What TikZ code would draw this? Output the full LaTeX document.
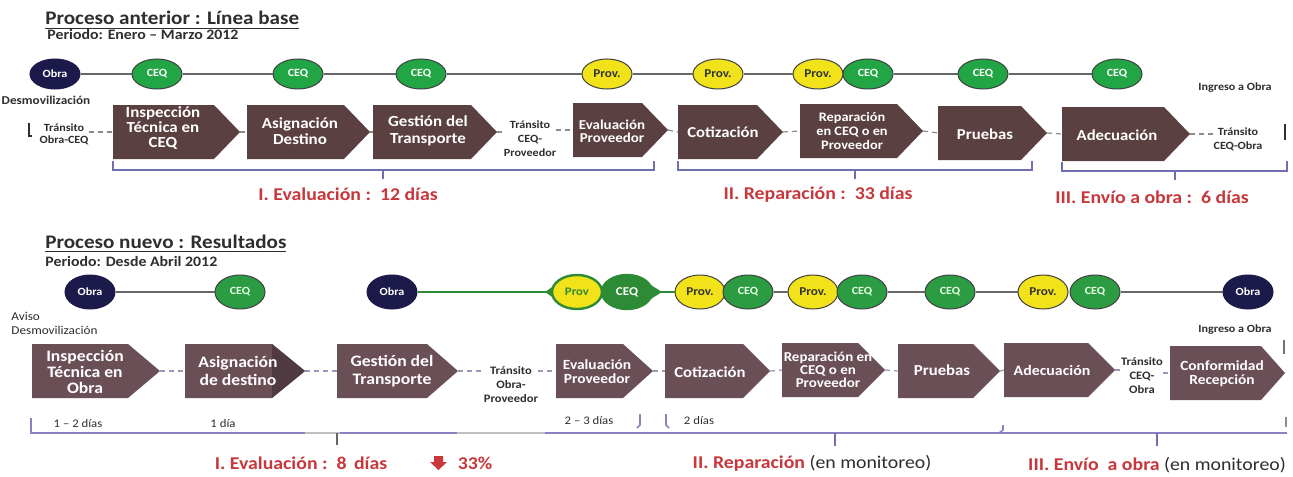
\documentclass[tikz,border=0pt]{standalone}
\usepackage{fontspec}
\setmainfont{Carlito}[FakeStretch=1.1]
\usetikzlibrary{shapes.geometric}
\definecolor{navy}{HTML}{1C1A4A}
\definecolor{gtop}{HTML}{22A544}
\definecolor{gbot}{HTML}{2C9C42}
\definecolor{gdark}{HTML}{2E8B35}
\definecolor{yel}{HTML}{F2E21A}
\definecolor{boxtop}{HTML}{5B4041}
\definecolor{boxbot}{HTML}{6B4F56}
\definecolor{boxdark}{HTML}{4E3A40}
\definecolor{redc}{HTML}{C8373B}
\definecolor{brc}{HTML}{6E6EB0}
\definecolor{purp}{HTML}{8F80C4}
\definecolor{txtc}{HTML}{2E2E2E}
\newcommand\procshape[7]{%
 \fill[#7] (#2,#4) -- ({#3-#6},#4) -- (#3,{(#4+#5)/2}) -- ({#3-#6},#5) -- (#2,#5) -- cycle;
 \coordinate (#1-w) at (#2,{(#4+#5)/2});
 \coordinate (#1-e) at (#3,{(#4+#5)/2});}
\begin{document}
\begin{tikzpicture}[x=0.5pt,y=-0.5pt,
 fs/.style 2 args={font=\bfseries\fontsize{#1}{#2}\selectfont},
 fr/.style 2 args={font=\fontsize{#1}{#2}\selectfont},
 circ/.style={ellipse,minimum width=25pt,minimum height=15pt,inner sep=0pt,draw=black!75,line width=0.5pt,fs={5.5}{6}},
 circb/.style={circ,minimum height=17pt},
 obra/.style={fill=navy,draw=navy,text=white},
 ceqt/.style={fill=gtop,text=white},
 ceqb/.style={fill=gbot,text=green!10},
 prov/.style={fill=yel,text=black!80,fs={6}{6}},
 tline/.style={draw=black!60,line width=0.7pt},
 gline/.style={draw=gdark,line width=0.9pt},
 btxt/.style={text=white,align=center,inner sep=0pt},
 small/.style={text=txtc,align=center,inner sep=0pt,fs={5.5}{6.5}},
 dsh/.style={draw=black!45,dashed,dash pattern=on 2.5pt off 2pt,line width=0.6pt},
 dshb/.style={draw=purp!80!black!70,dashed,dash pattern=on 2.5pt off 2pt,line width=0.6pt},
 brace/.style={draw=brc,line width=0.7pt},
 redlab/.style={text=redc,inner sep=0pt,fs={9}{9}},
 boxA/.style={fill=boxtop},
 boxB/.style={fill=boxbot},
 boxD/.style={fill=boxdark}]
\useasboundingbox[fill=white] (0,0) rectangle (1293,476);
% ---------------- TOP SECTION ----------------
\node[anchor=base west,inner sep=0pt,text=txtc,fs={9.6}{10}] (title1) at (45,25) {\underline{Proceso anterior : Línea base}};
\node[anchor=base west,inner sep=0pt,text=txtc,fs={7.2}{8}] (per1) at (47,40) {Periodo: Enero – Marzo 2012};
% circles
\node[circ,obra] (o1) at (55,74) {Obra};
\node[circ,ceqt] (c1) at (157,74) {CEQ};
\node[circ,ceqt] (c2) at (298,74) {CEQ};
\node[circ,ceqt] (c3) at (421,74) {CEQ};
\node[circ,prov] (p1) at (607,74) {Prov.};
\node[circ,prov] (p2) at (718,74) {Prov.};
\node[circ,prov] (p3) at (818,74) {Prov.};
\node[circ,ceqt] (c4) at (868,74) {CEQ};
\node[circ,ceqt] (c5) at (983,74) {CEQ};
\node[circ,ceqt] (c6) at (1117,74) {CEQ};
\draw[tline] (o1) -- (c1) -- (c2) -- (c3) -- (p1) -- (p2) -- (p3);
\draw[tline] (c4) -- (c5) -- (c6);
% labels
\node[small,fs={6}{6.5}] (desm1) at (46,100) {Desmovilización};
\node[small,fs={5.5}{6}] (tr1) at (64,134) {Tránsito\\Obra-CEQ};
\draw[draw=txtc,line width=0.6pt] (29,123) -- (29,136) -- (32,136);
\node[small,fs={5.5}{7}] (tr2) at (530,139) {Tránsito\\CEQ-\\Proveedor};
\node[small] (ing1) at (1235,88) {Ingreso a Obra};
\node[small,fs={5.5}{7}] (tr3) at (1238,139) {Tránsito\\CEQ-Obra};
\draw[draw=txtc,line width=0.7pt] (1285,124) -- (1285,140);
% process boxes
\procshape{A1}{113}{240}{105}{159}{26}{boxA}
\procshape{A2}{247}{370}{105}{159}{26}{boxA}
\procshape{A3}{373}{497}{105}{159}{26}{boxA}
\procshape{A4}{573}{668}{103}{157}{26}{boxA}
\procshape{A5}{678}{783}{105}{159}{26}{boxA}
\procshape{A6}{800}{923}{104}{158}{26}{boxA}
\procshape{A7}{938}{1047}{106}{160}{26}{boxA}
\procshape{A8}{1062}{1190}{107}{161}{26}{boxA}
\node[btxt,fs={7.7}{7.5}] (ta1) at (163,128) {Inspección\\Técnica en\\CEQ};
\node[btxt,fs={7.7}{8.3}] (ta2) at (300,131) {Asignación\\Destino};
\node[btxt,fs={7.7}{8.3}] (ta3) at (428,131) {Gestión del\\Transporte};
\node[btxt,fs={6.8}{6.3}] (ta4) at (612,131) {Evaluación\\Proveedor};
\node[btxt,fs={7.6}{8}] (ta5) at (723,132) {Cotización};
\node[btxt,fs={6.5}{6.8}] (ta6) at (852,131) {Reparación\\en CEQ o en\\Proveedor};
\node[btxt,fs={7.6}{8}] (ta7) at (985,134) {Pruebas};
\node[btxt,fs={7.6}{8}] (ta8) at (1117,135) {Adecuación};
% dashed connectors
\draw[dsh] (tr1.east |- A1-w) -- (A1-w);
\draw[dsh] (A1-e) -- (A2-w);
\draw[dsh] (A2-e) -- (A3-w);
\draw[dsh] (A3-e) -- (A3-e -| tr2.west);
\draw[dsh] (A4-w -| tr2.east) -- (A4-w);
\draw[dsh] (A4-e) -- (A5-w);
\draw[dsh] (A5-e) -- (A6-w);
\draw[dsh] (A6-e) -- (A7-w);
\draw[dsh] (A7-e) -- (A8-w);
\draw[dsh] (A8-e) -- (A8-e -| tr3.west);
% braces
\draw[brace] (113,161) -- (113,170) -- (654,170) -- (654,161);
\draw[brace] (383,170) -- (383,179);
\draw[brace] (678,161) -- (678,170) -- (1032,170) -- (1032,161);
\draw[brace] (855,170) -- (855,179);
\draw[brace] (1062,162) -- (1062,171) -- (1287,171) -- (1287,161);
\draw[brace] (1175,171) -- (1175,180);
\node[redlab] (r1) at (348,194) {I. Evaluación :\, 12 días};
\node[redlab] (r2) at (818,195) {II. Reparación :\, 33 días};
\node[redlab] (r3) at (1152,197) {III. Envío a obra :\, 6 días};
% ---------------- BOTTOM SECTION ----------------
\node[anchor=base west,inner sep=0pt,text=txtc,fs={9.6}{10}] (title2) at (45,248) {\underline{Proceso nuevo : Resultados}};
\node[anchor=base west,inner sep=0pt,text=txtc,fs={7.2}{8}] (per2) at (45,266) {Periodo: Desde Abril 2012};
% circles
\node[circb,obra] (bo1) at (90,292) {Obra};
\node[circb,ceqb] (bc1) at (240,292) {CEQ};
\node[circb,obra] (bo2) at (392,292) {Obra};
\fill[gdark] (545,292) -- (558,283) -- (558,301) -- cycle;
\fill[gdark] (662,292) -- (646,282) -- (646,302) -- cycle;
\node[circb,fill=yel,draw=gdark,line width=1.2pt,text=gdark,fs={5.8}{6}] (bpl) at (577,292) {Prov};
\node[circb,fill=gdark,draw=gdark,line width=1.2pt,text=white,fs={6}{6}] (bcl) at (627,292) {CEQ};
\node[circb,prov] (bp2) at (700,292) {Prov.};
\node[circb,ceqb] (bc2) at (748,292) {CEQ};
\node[circb,prov] (bp3) at (813,292) {Prov.};
\node[circb,ceqb] (bc3) at (862,292) {CEQ};
\node[circb,ceqb] (bc4) at (950,292) {CEQ};
\node[circb,prov] (bp4) at (1043,292) {Prov.};
\node[circb,ceqb] (bc5) at (1095,292) {CEQ};
\node[circb,obra] (bo3) at (1248,292) {Obra};
\draw[tline] (bo1) -- (bc1);
\draw[gline] (bo2) -- (bpl);
\draw[gline] (bcl) -- (bp2);
\draw[tline] (bc2) -- (bp3);
\draw[tline] (bc3) -- (bc4) -- (bp4);
\draw[tline] (bc5) -- (bo3);
% labels
\node[small,fr={6}{7},align=left,anchor=west] (aviso) at (11,323) {Aviso\\Desmovilización};
\node[small] (ing2) at (1235,330) {Ingreso a Obra};
\draw[draw=black!55,line width=0.7pt] (1284,340) -- (1284,354);
% process boxes
\procshape{B1}{32}{160}{344}{398}{32}{boxB}
\procshape{B2}{185}{305}{344}{398}{33}{boxB}
\fill[boxD] (272,344) -- (305,371) -- (272,398) -- cycle;
\procshape{B3}{337}{458}{344}{398}{31}{boxB}
\procshape{B4}{556}{653}{344}{398}{30}{boxB}
\procshape{B5}{665}{770}{344}{398}{27}{boxB}
\procshape{B6}{782}{885}{343}{397}{27}{boxB}
\procshape{B7}{898}{1000}{344}{398}{27}{boxB}
\procshape{B8}{1004}{1115}{343}{397}{27}{boxB}
\procshape{B9}{1170}{1285}{346}{400}{24}{boxB}
\node[btxt,fs={8}{8}] (tb1) at (85,372) {Inspección\\Técnica en\\Obra};
\node[btxt,fs={8}{9}] (tb2) at (238,371) {Asignación\\de destino};
\node[btxt,fs={8}{9}] (tb3) at (392,371) {Gestión del\\Transporte};
\node[btxt,fs={7}{7}] (tb4) at (597,372) {Evaluación\\Proveedor};
\node[btxt,fs={7.6}{8}] (tb5) at (710,372) {Cotización};
\node[btxt,fs={6.8}{6.6}] (tb6) at (828,370) {Reparación en\\CEQ o en\\Proveedor};
\node[btxt,fs={7.6}{8}] (tb7) at (942,370) {Pruebas};
\node[btxt,fs={7.2}{8}] (tb8) at (1052,370) {Adecuación};
\node[btxt,fs={7}{7}] (tb9) at (1222,374) {Conformidad\\Recepción};
\node[small,fs={5.7}{7}] (tr4) at (511,385) {Tránsito\\Obra-\\Proveedor};
\node[small,fs={5.7}{7}] (tr5) at (1142,376) {Tránsito\\CEQ-\\Obra};
% dashed connectors
\draw[dshb] (B1-e) -- (B2-w);
\draw[dshb] (B2-e) -- (B3-w);
\draw[dshb] (B3-e) -- (B3-e -| tr4.west);
\draw[dshb] (B4-w -| tr4.east) -- (B4-w);
\draw[dshb] (B4-e) -- (B5-w);
\draw[dshb] (B5-e) -- (B6-w);
\draw[dshb] (B6-e) -- (B7-w);
\draw[dshb] (B7-e) -- (B8-w);
\draw[dshb] (B8-e) -- (B8-e -| tr5.west);
\draw[dshb] (B9-w -| tr5.east) -- (B9-w);
% durations
\node[small,fr={5.8}{6}] (d1) at (78,424) {1 – 2 días};
\node[small,fr={5.8}{6}] (d2) at (223,424) {1 día};
\node[small,fr={5.8}{6}] (d3) at (589,421) {2 – 3 días};
\node[small,fr={5.8}{6}] (d4) at (699,421) {2 días};
\draw[draw=purp,line width=0.8pt] (640,414) -- (640,425) -- (637,428);
\draw[draw=purp,line width=0.8pt] (666,414) -- (666,425) -- (669,428);
\draw[draw=purp,line width=0.8pt] (999,433) -- (1003,430) -- (1003,425);
\draw[draw=black!45,line width=0.7pt] (1286,417) -- (1286,427);
% bottom line
\draw[draw=purp,line width=1pt] (31,418) -- (31,433) -- (305,433);
\draw[draw=black!25,line width=1pt] (305,433) -- (340,433);
\draw[draw=purp,line width=1pt] (340,433) -- (457,433);
\draw[draw=black!25,line width=1pt] (457,433) -- (545,433);
\draw[draw=purp,line width=1pt] (545,433) -- (1287,433);
\draw[draw=black!60,line width=0.9pt] (337,433) -- (337,445);
\draw[draw=brc,line width=0.9pt] (835,433) -- (835,446);
\draw[draw=brc,line width=0.9pt] (1157,433) -- (1157,446);
% results
\node[redlab] (r4) at (301,463) {I. Evaluación :\, 8\, días};
\fill[redc] (434,456) -- (443,456) -- (443,462) -- (447,462) -- (438.5,470) -- (430,462) -- (434,462) -- cycle;
\node[redlab] (r5) at (475,463) {33\%};
\node[inner sep=0pt,text=txtc,fr={9}{9}] (r6) at (812,463) {\textcolor{redc}{\bfseries II. Reparación} (en monitoreo)};
\node[inner sep=0pt,text=txtc,fr={9}{9}] (r7) at (1157,465) {\textcolor{redc}{\bfseries III. Envío\ \ a obra} (en monitoreo)};
\end{tikzpicture}
\end{document}
